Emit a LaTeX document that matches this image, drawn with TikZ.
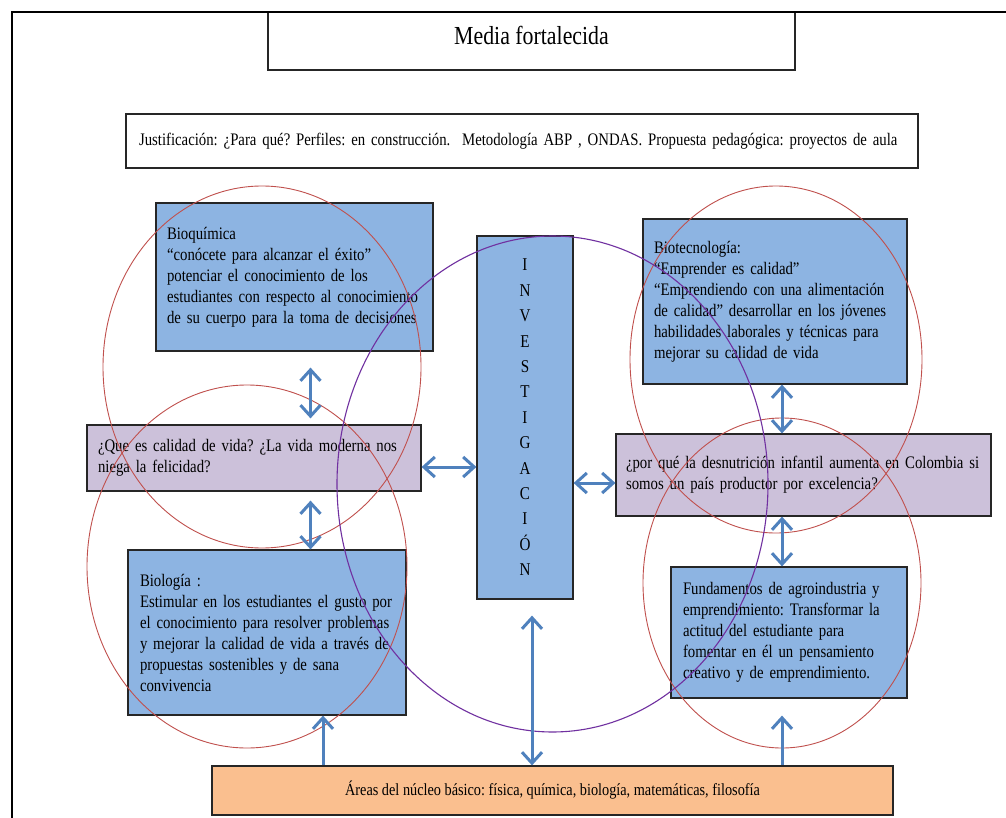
\documentclass[tikz,border=0pt]{standalone}
\usepackage{fontspec}
\setmainfont{Liberation Serif}[FakeStretch=0.84]
\usetikzlibrary{arrows.meta, positioning, calc}
\usepackage{xcolor}
\definecolor{boxblue}{RGB}{141,180,226}
\definecolor{lilac}{RGB}{204,193,218}
\definecolor{peach}{RGB}{250,191,143}
\definecolor{arrowblue}{RGB}{79,129,189}
\definecolor{ringred}{RGB}{192,80,77}
\definecolor{ringpurple}{RGB}{112,48,160}
\newcommand{\bodysize}{\fontsize{17.6}{21}\selectfont}
\newcommand{\tline}[1]{\mbox{#1}}
\frenchspacing

\begin{document}
\begin{tikzpicture}[
    x=1pt, y=-1pt,
    box/.style={draw=black!85, line width=1.2pt, align=left, inner xsep=11pt, inner ysep=4pt, font=\bodysize},
    bluebox/.style={box, fill=boxblue},
    askbox/.style={box, fill=lilac},
    plainbox/.style={box, fill=white},
    arrow/.style={{Straight Barb[length=11pt, width=20pt]}-{Straight Barb[length=11pt, width=20pt]}, line width=3pt, draw=arrowblue},
    uparrow/.style={-{Straight Barb[length=11pt, width=20pt]}, line width=3pt, draw=arrowblue},
    ring/.style={draw=ringred, line width=0.9pt},
    bigring/.style={draw=ringpurple, line width=1.1pt}
]
\fill[white] (0,0) rectangle (1006,818);
\useasboundingbox (0,0) rectangle (1006,818);

% Nodes
\node[plainbox, align=center, inner ysep=0pt, text height=33pt, text depth=25pt, minimum width=527pt, minimum height=58pt, font=\fontsize{26}{30}\selectfont] (title) at (531.5,41) {Media fortalecida};
\node[plainbox, inner xsep=13pt, text width=766pt, minimum height=54pt] (just) at (522,141) {\tline{Justificación: ¿Para qué? Perfiles: en construcción.\ \ Metodología ABP , ONDAS. Propuesta pedagógica: proyectos de aula}};

\node[bluebox, text width=255pt, minimum width=277pt, minimum height=148pt] (bioq) at (294.5,277) {\tline{Bioquímica}\\\tline{“conócete para alcanzar el éxito”}\\\tline{potenciar el conocimiento de los}\\\tline{estudiantes con respecto al conocimiento}\\\tline{de su cuerpo para la toma de decisiones}};
\node[bluebox, text width=242pt, minimum width=264pt, minimum height=165pt] (biotec) at (775,301.5) {\tline{Biotecnología:}\\\tline{“Emprender es calidad”}\\\tline{“Emprendiendo con una alimentación}\\\tline{de calidad” desarrollar en los jóvenes}\\\tline{habilidades laborales y técnicas para}\\\tline{mejorar su calidad de vida}};

\node[askbox, text width=312pt, minimum width=334pt, minimum height=66pt] (qleft) at (254,458) {\tline{¿Que es calidad de vida? ¿La vida moderna nos}\\\tline{niega la felicidad?}};
\node[askbox, text width=355pt, minimum width=375pt, minimum height=82pt, inner xsep=10pt] (qright) at (803.5,475) {\tline{¿por qué la desnutrición infantil aumenta en Colombia si}\\\tline{somos un país productor por excelencia?}};

\node[bluebox, align=center, minimum width=96pt, minimum height=363pt, font=\fontsize{18}{25.4}\selectfont] (inv) at (525,417.5) {I\\N\\V\\E\\S\\T\\I\\G\\A\\C\\I\\Ó\\N};

\node[bluebox, inner xsep=12pt, text width=254pt, minimum width=278pt, minimum height=165pt] (biol) at (267,632.5) {\tline{Biología :}\\\tline{Estimular en los estudiantes el gusto por}\\\tline{el conocimiento para resolver problemas}\\\tline{y mejorar la calidad de vida a través de}\\\tline{propuestas sostenibles y de sana}\\\tline{convivencia}};
\node[bluebox, inner xsep=12pt, text width=212pt, minimum width=236pt, minimum height=131pt] (fund) at (789,632.5) {\tline{Fundamentos de agroindustria y}\\\tline{emprendimiento: Transformar la}\\\tline{actitud del estudiante para}\\\tline{fomentar en él un pensamiento}\\\tline{creativo y de emprendimiento.}};

\node[box, fill=peach, align=center, minimum width=681pt, minimum height=49pt, font=\fontsize{17}{20}\selectfont] (areas) at (552.5,790.5) {Áreas del núcleo básico: física, química, biología, matemáticas, filosofía};

% Frame
\draw[line width=2pt] (1006,12) -- (12,12) -- (12,818);

% Circles
\draw[ring] (262,367) ellipse [x radius=159, y radius=181];
\draw[ring] (247,566.5) ellipse [x radius=160, y radius=181.5];
\draw[ring] (776,359.5) ellipse [x radius=146, y radius=173.5];
\draw[ring] (782,583) ellipse [x radius=139, y radius=165];
\draw[bigring] (552.5,484) ellipse [x radius=215.5, y radius=248];

% Arrows
\draw[arrow] ([xshift=16pt,yshift=-16pt]bioq.south) -- ([xshift=16pt,yshift=6pt]bioq.south |- qleft.north);
\draw[arrow] ([xshift=16pt,yshift=-9pt]bioq.south |- qleft.south) -- ([xshift=16pt]bioq.south |- biol.north);
\draw[arrow] ([yshift=-9pt]qleft.east) -- ([yshift=-9pt]qleft.east -| inv.west);
\draw[arrow] ([yshift=-8pt]inv.east |- qright.west) -- ([yshift=-8pt]qright.west);
\draw[arrow] ([xshift=7pt]biotec.south) -- ([xshift=7pt]biotec.south |- qright.north);
\draw[arrow] ([xshift=7pt]biotec.south |- qright.south) -- ([xshift=7pt]biotec.south |- fund.north);
\draw[arrow] ([xshift=7pt,yshift=-16pt]inv.south) -- ([xshift=7pt]inv.south |- areas.north);
\draw[uparrow] ([xshift=56pt]biol.south |- areas.north) -- ([xshift=56pt]biol.south);
\draw[uparrow] ([xshift=-7pt]fund.south |- areas.north) -- ([xshift=-7pt,yshift=-17pt]fund.south);

\end{tikzpicture}
\end{document}
